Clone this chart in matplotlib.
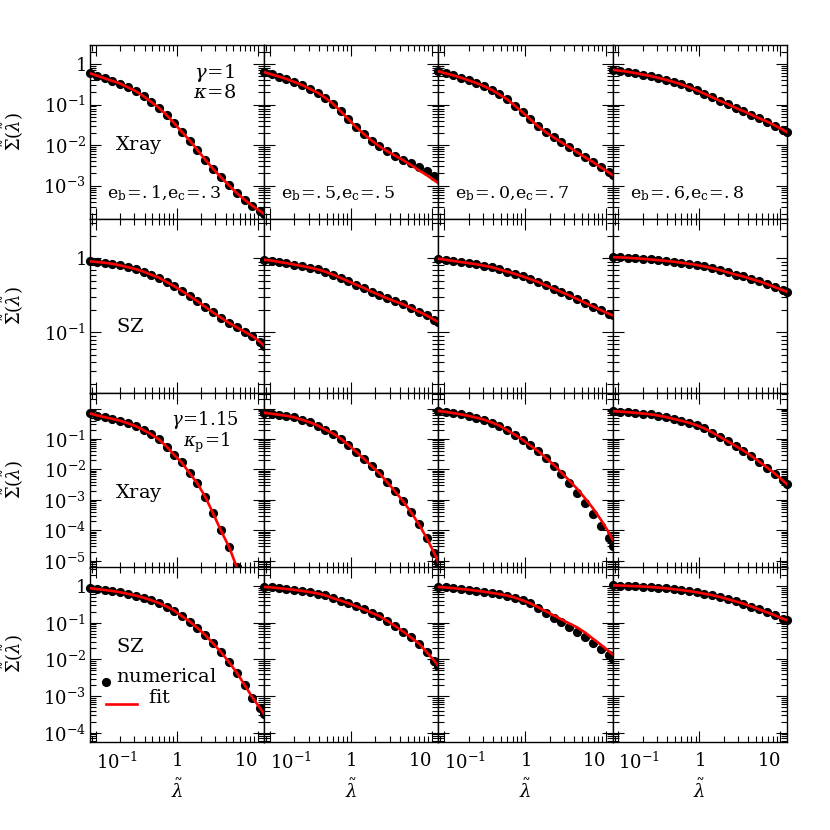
import numpy as np
import matplotlib
matplotlib.use('Agg')
import matplotlib.pyplot as plt
from matplotlib.ticker import LogLocator, NullFormatter
from matplotlib.lines import Line2D
import matplotlib.transforms as mtransforms

plt.rcParams['font.family'] = ['DejaVu Serif']
plt.rcParams['mathtext.fontset'] = 'dejavuserif'

# ---- data ----
lam = [0.085, 0.105, 0.13, 0.16, 0.2, 0.25, 0.31, 0.39, 0.48, 0.6, 0.75, 0.93,
       1.15, 1.45, 1.8, 2.25, 2.8, 3.5, 4.4, 5.5, 6.9, 8.6, 10.7, 12.0]

# log10 of Sigma~ for the fit curves, one list per column (e_b,e_c sets)
xray_g1 = [
    [-0.23, -0.29, -0.355, -0.415, -0.48, -0.575, -0.665, -0.795, -0.93, -1.08, -1.26, -1.46,
     -1.67, -1.89, -2.12, -2.36, -2.58, -2.79, -2.99, -3.18, -3.35, -3.50, -3.63, -3.70],
    [-0.20, -0.255, -0.31, -0.37, -0.44, -0.52, -0.61, -0.71, -0.83, -0.98, -1.17, -1.36,
     -1.55, -1.73, -1.89, -2.03, -2.15, -2.26, -2.37, -2.49, -2.62, -2.74, -2.87, -2.94],
    [-0.18, -0.23, -0.28, -0.335, -0.40, -0.47, -0.545, -0.64, -0.75, -0.87, -1.03, -1.19,
     -1.36, -1.54, -1.68, -1.81, -1.93, -2.05, -2.18, -2.30, -2.42, -2.55, -2.67, -2.74],
    [-0.14, -0.165, -0.19, -0.22, -0.26, -0.295, -0.34, -0.39, -0.44, -0.50, -0.57, -0.65,
     -0.73, -0.82, -0.91, -0.99, -1.08, -1.16, -1.25, -1.34, -1.42, -1.52, -1.62, -1.68]]
sz_g1 = [
    [-0.04, -0.05, -0.06, -0.074, -0.095, -0.12, -0.145, -0.18, -0.22, -0.26, -0.32, -0.375,
     -0.44, -0.51, -0.58, -0.655, -0.73, -0.80, -0.87, -0.93, -0.99, -1.05, -1.13, -1.18],
    [-0.02, -0.03, -0.05, -0.065, -0.085, -0.105, -0.125, -0.15, -0.18, -0.22, -0.265, -0.31,
     -0.355, -0.40, -0.45, -0.495, -0.54, -0.58, -0.62, -0.67, -0.72, -0.77, -0.83, -0.86],
    [-0.005, -0.02, -0.035, -0.05, -0.065, -0.08, -0.10, -0.12, -0.15, -0.18, -0.21, -0.245,
     -0.28, -0.32, -0.365, -0.41, -0.455, -0.50, -0.55, -0.60, -0.65, -0.70, -0.745, -0.77],
    [0.015, 0.012, 0.007, 0.0, -0.007, -0.016, -0.025, -0.035, -0.045, -0.06, -0.075, -0.09,
     -0.11, -0.135, -0.16, -0.19, -0.22, -0.245, -0.28, -0.31, -0.35, -0.39, -0.43, -0.45]]
xray_g115 = [
    [-0.16, -0.23, -0.285, -0.34, -0.40, -0.485, -0.575, -0.71, -0.84, -1.01, -1.25, -1.52,
     -1.77, -2.13, -2.46, -2.90, -3.43, -4.00, -4.53, -5.20, -5.95, -6.7, -7.5, -7.9],
    [-0.14, -0.17, -0.205, -0.24, -0.29, -0.37, -0.45, -0.56, -0.69, -0.82, -0.99, -1.19,
     -1.41, -1.65, -1.89, -2.13, -2.42, -2.72, -3.04, -3.40, -3.80, -4.25, -4.75, -5.05],
    [-0.08, -0.11, -0.15, -0.19, -0.24, -0.30, -0.36, -0.46, -0.56, -0.71, -0.86, -1.03,
     -1.21, -1.40, -1.62, -1.84, -2.10, -2.36, -2.64, -2.95, -3.28, -3.65, -4.05, -4.30],
    [-0.085, -0.10, -0.12, -0.14, -0.165, -0.19, -0.23, -0.28, -0.34, -0.40, -0.47, -0.55,
     -0.65, -0.79, -0.93, -1.08, -1.23, -1.38, -1.56, -1.75, -1.94, -2.14, -2.36, -2.48]]
sz_g115 = [
    [-0.06, -0.085, -0.11, -0.135, -0.17, -0.215, -0.26, -0.32, -0.385, -0.46, -0.56, -0.67,
     -0.82, -0.97, -1.14, -1.34, -1.56, -1.80, -2.07, -2.36, -2.70, -3.04, -3.33, -3.49],
    [-0.025, -0.04, -0.06, -0.08, -0.105, -0.135, -0.165, -0.205, -0.255, -0.33, -0.40, -0.47,
     -0.55, -0.64, -0.73, -0.82, -0.95, -1.09, -1.24, -1.40, -1.57, -1.80, -2.04, -2.18],
    [-0.025, -0.04, -0.06, -0.08, -0.10, -0.13, -0.155, -0.19, -0.22, -0.26, -0.32, -0.39,
     -0.47, -0.58, -0.69, -0.80, -0.91, -1.02, -1.13, -1.27, -1.44, -1.60, -1.77, -1.86],
    [0.02, 0.012, 0.005, -0.005, -0.015, -0.027, -0.045, -0.063, -0.085, -0.11, -0.14, -0.17,
     -0.21, -0.25, -0.30, -0.36, -0.42, -0.48, -0.56, -0.64, -0.72, -0.80, -0.89, -0.93]]

# numerical points where they visibly depart from the fit (log10 Sigma~)
num_xray_g1_c2 = xray_g1[1][:19] + [-2.44, -2.54, -2.64, -2.75, -2.81]
num_xray_g115_c3 = xray_g115[2][:15] + [-1.87, -2.16, -2.45, -2.76, -3.10, -3.46, -3.85, -4.25, -4.50]
num_sz_g115_c3 = sz_g115[2][:13] + [-0.60, -0.73, -0.86, -0.99, -1.12, -1.25, -1.40, -1.56,
                                    -1.72, -1.89, -1.98]

fits = [xray_g1, sz_g1, xray_g115, sz_g115]
nums = [[xray_g1[0], num_xray_g1_c2, xray_g1[2], xray_g1[3]],
        sz_g1,
        [xray_g115[0], xray_g115[1], num_xray_g115_c3, xray_g115[3]],
        [sz_g115[0], sz_g115[1], num_sz_g115_c3, sz_g115[3]]]

ylog_limits = [(-3.83, 0.47), (-1.82, 0.53), (-5.22, 0.50), (-4.24, 0.51)]
ytick_exps = [[0, -1, -2, -3], [0, -1], [-1, -2, -3, -4, -5], [0, -1, -2, -3, -4]]
ecc_labels = [r'$\mathrm{e_b\!=\!.1,\!e_c\!=\!.3}$', r'$\mathrm{e_b\!=\!.5,\!e_c\!=\!.5}$',
              r'$\mathrm{e_b\!=\!.0,\!e_c\!=\!.7}$', r'$\mathrm{e_b\!=\!.6,\!e_c\!=\!.8}$']
xtick_vals = [0.1, 1, 10]
xtick_text = [r'$10^{-1}$', r'$1$', r'$10$']
xtick_ha = ['left', 'center', 'right']

# ---- layout ----
W = 830.0
fig = plt.figure(figsize=(8.3, 8.3), dpi=100)
col_left = [90, 264.2, 438.4, 612.6]
row_top = [45, 219, 393.3, 567.3]
pw, ph = 174.2, 174.3
TFS = 13
AFS = 14
MS = 6.6

lam_a = np.array(lam)
for r in range(4):
    for c in range(4):
        ax = fig.add_axes([col_left[c] / W, 1 - (row_top[r] + ph) / W, pw / W, ph / W])
        ax.set_xscale('log')
        ax.set_yscale('log')
        ax.set_xlim(0.085, 12.0)
        lo, hi = ylog_limits[r]
        ax.set_ylim(10 ** lo, 10 ** hi)
        fit = 10 ** np.array(fits[r][c])
        nlog = np.array(nums[r][c])
        m = nlog >= lo - 0.02
        ax.plot(lam_a[m], 10 ** nlog[m], 'o', color='black', ms=MS, mew=0, clip_on=False,
                zorder=3)
        ax.plot(lam_a, fit, '-', color='#ff0000', lw=1.9, zorder=4)
        for axis in (ax.xaxis, ax.yaxis):
            axis.set_major_locator(LogLocator(base=10, numticks=30))
            axis.set_minor_locator(LogLocator(base=10, subs=np.arange(2, 10), numticks=30))
            axis.set_minor_formatter(NullFormatter())
        ax.tick_params(which='both', direction='in', top=True, right=True,
                       labelbottom=False, labelleft=False, width=0.8, color='black')
        ax.tick_params(which='major', length=8)
        ax.tick_params(which='minor', length=4.5)
        for s in ax.spines.values():
            s.set_linewidth(1.0)
        if c == 0:
            tr = ax.get_yaxis_transform() + mtransforms.ScaledTranslation(0, -2 / 100, fig.dpi_scale_trans)
            for e in ytick_exps[r]:
                lab = r'$1$' if e == 0 else r'$10^{%d}$' % e
                ax.text(-0.022, 10.0 ** e, lab, transform=tr, ha='right', va='center', fontsize=TFS)
        if r == 3:
            for v, t, ha in zip(xtick_vals, xtick_text, xtick_ha):
                ax.text(v, -0.058, t, transform=ax.get_xaxis_transform(), ha=ha, va='top',
                        fontsize=TFS)


def ftext(x, y, s, **kw):
    kw.setdefault('fontsize', AFS)
    fig.text(x / W, 1 - y / W, s, **kw)


# y labels, x labels
for yc in [132, 306, 480, 654]:
    ftext(13, yc, r'$\tilde{\Sigma}(\tilde{\lambda})$', rotation=90, ha='center', va='center',
          fontsize=TFS)
for c in range(4):
    ftext(col_left[c] + 86.7, 790, r'$\tilde{\lambda}$', ha='center', va='center', fontsize=TFS)

# panel annotations
ftext(214, 73, r'$\gamma\!=\!1$', ha='center', va='center')
ftext(215, 93, r'$\kappa\!=\!8$', ha='center', va='center')
ftext(115, 145, r'$\mathrm{Xray}$', ha='left', va='center')
for c in range(4):
    ftext(col_left[c] + 17, 198, ecc_labels[c], ha='left', va='baseline', fontsize=12.5)
ftext(116, 327, r'$\mathrm{SZ}$', ha='left', va='center')
ftext(205, 425, r'$\gamma\!=\!1.15$', ha='center', va='baseline', fontsize=13)
ftext(207, 447, r'$\kappa_\mathrm{p}\!=\!1$', ha='center', va='baseline', fontsize=13)
ftext(115, 493, r'$\mathrm{Xray}$', ha='left', va='center')
ftext(116, 647, r'$\mathrm{SZ}$', ha='left', va='center')

# legend
fig.add_artist(Line2D([106 / W], [1 - 681.7 / W], marker='o', color='black', ms=MS, mew=0,
                      linestyle='none', transform=fig.transFigure))
ftext(116, 677, r'$\mathrm{numerical}$', ha='left', va='center')
fig.add_artist(Line2D([106 / W, 137.3 / W], [1 - 704.3 / W, 1 - 704.3 / W], color='#ff0000',
                      lw=1.9, transform=fig.transFigure))
ftext(148, 698, r'$\mathrm{fit}$', ha='left', va='center')

fig.savefig('out.png', dpi=100)
